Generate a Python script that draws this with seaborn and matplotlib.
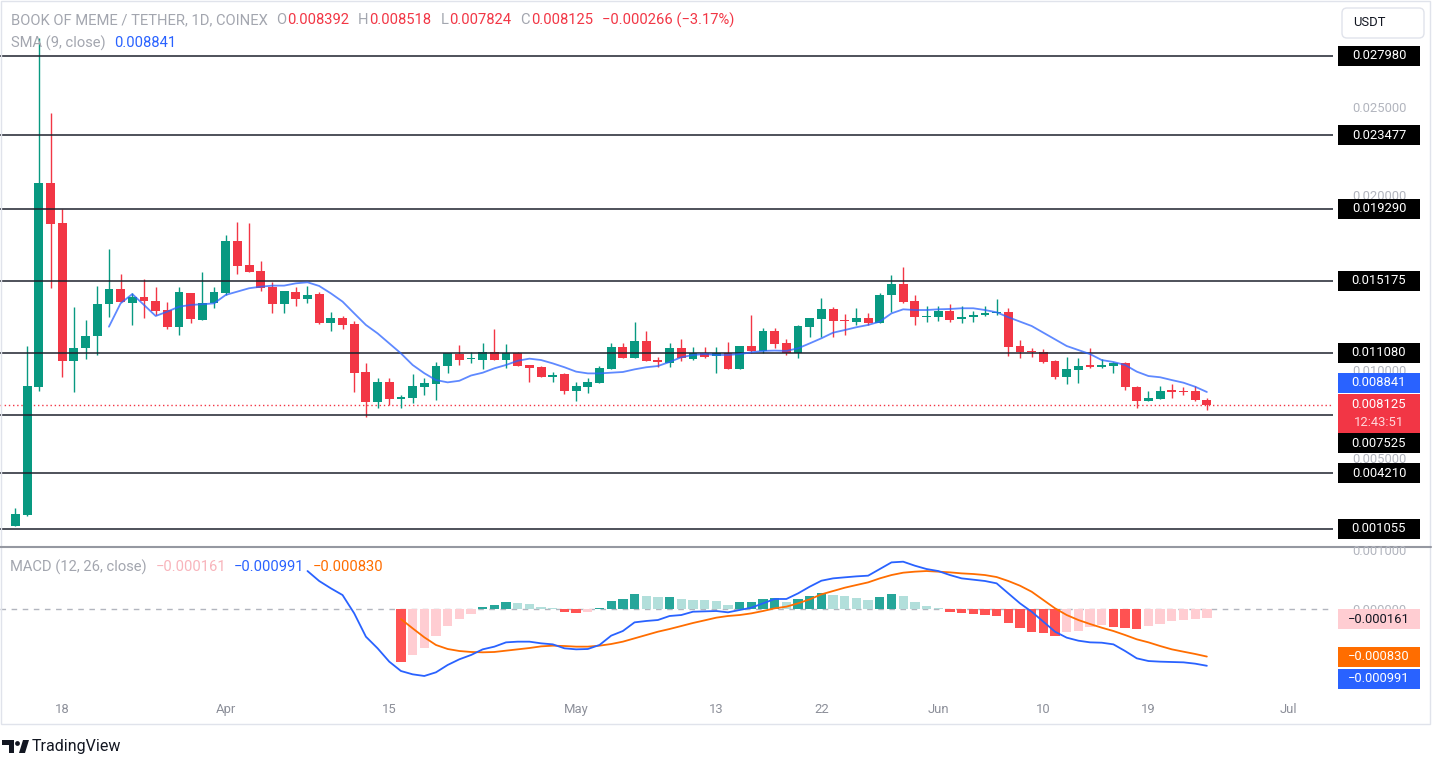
#!/usr/bin/env python3
import numpy as np
import pandas as pd
import matplotlib
matplotlib.use("Agg")
import matplotlib.pyplot as plt
import matplotlib.dates as mdates
from matplotlib.patches import Rectangle, FancyBboxPatch, Polygon, Circle
import seaborn as sns

# === data (BOME/USDT daily, Coinex) ===
dates = pd.date_range("2024-03-14", "2024-06-24", freq="D")

opens = [0.00121, 0.00183, 0.00914, 0.02076, 0.01847, 0.01061, 0.01133, 0.01203, 0.01385, 0.01469,
         0.01389, 0.01423, 0.01404, 0.01351, 0.01256, 0.01450, 0.01294, 0.01389, 0.01446, 0.01744,
         0.01606, 0.01573, 0.01480, 0.01384, 0.01455, 0.01412, 0.01442, 0.01279, 0.01307, 0.01271,
         0.00996, 0.00829, 0.00943, 0.00842, 0.00852, 0.00914, 0.00930, 0.01034, 0.01100, 0.01072,
         0.01066, 0.01114, 0.01066, 0.01108, 0.01036, 0.01025, 0.00969, 0.00985, 0.00891, 0.00914,
         0.00937, 0.01013, 0.01139, 0.01076, 0.01175, 0.01066, 0.01051, 0.01133, 0.01070, 0.01104,
         0.01089, 0.01108, 0.01013, 0.01148, 0.01119, 0.01231, 0.01161, 0.01104, 0.01256, 0.01300,
         0.01357, 0.01294, 0.01284, 0.01304, 0.01279, 0.01437, 0.01498, 0.01402, 0.01310, 0.01313,
         0.01345, 0.01298, 0.01310, 0.01321, 0.01336, 0.01341, 0.01146, 0.01118, 0.01114, 0.01061,
         0.00971, 0.01009, 0.01038, 0.01025, 0.01032, 0.01047, 0.00914, 0.00834, 0.00842, 0.00894,
         0.00891, 0.00891, 0.008392]
highs = [0.00222, 0.01146, 0.02900, 0.02471, 0.01925, 0.01370, 0.01294, 0.01489, 0.01699, 0.01554,
         0.01446, 0.01528, 0.01484, 0.01395, 0.01484, 0.01450, 0.01566, 0.01484, 0.01778, 0.01854,
         0.01848, 0.01630, 0.01509, 0.01461, 0.01484, 0.01488, 0.01452, 0.01341, 0.01319, 0.01288,
         0.01047, 0.00962, 0.00962, 0.00867, 0.00985, 0.00962, 0.01057, 0.01104, 0.01152, 0.01114,
         0.01161, 0.01243, 0.01156, 0.01114, 0.01036, 0.01034, 0.00996, 0.00994, 0.00939, 0.00962,
         0.01032, 0.01161, 0.01161, 0.01281, 0.01231, 0.01085, 0.01161, 0.01186, 0.01142, 0.01142,
         0.01142, 0.01167, 0.01148, 0.01323, 0.01247, 0.01247, 0.01186, 0.01266, 0.01304, 0.01421,
         0.01370, 0.01328, 0.01361, 0.01332, 0.01446, 0.01550, 0.01594, 0.01437, 0.01374, 0.01374,
         0.01385, 0.01374, 0.01345, 0.01374, 0.01412, 0.01361, 0.01180, 0.01136, 0.01127, 0.01066,
         0.01085, 0.01076, 0.01136, 0.01072, 0.01057, 0.01057, 0.00920, 0.00890, 0.00920, 0.00928,
         0.00914, 0.00920, 0.008518]
lows = [0.00121, 0.00180, 0.00890, 0.01475, 0.00971, 0.00882, 0.01070, 0.01095, 0.01313, 0.01397,
        0.01266, 0.01304, 0.01323, 0.01245, 0.01209, 0.01279, 0.01294, 0.01361, 0.01437, 0.01554,
        0.01566, 0.01461, 0.01332, 0.01336, 0.01376, 0.01393, 0.01271, 0.01233, 0.01245, 0.00886,
        0.00743, 0.00791, 0.00810, 0.00795, 0.00820, 0.00867, 0.00838, 0.00991, 0.01038, 0.01048,
        0.01013, 0.01066, 0.01022, 0.01032, 0.00939, 0.00968, 0.00939, 0.00871, 0.00833, 0.00880,
        0.00934, 0.01013, 0.01076, 0.01076, 0.01061, 0.01028, 0.01025, 0.01062, 0.01066, 0.01076,
        0.00991, 0.01013, 0.01013, 0.01104, 0.01104, 0.01133, 0.01095, 0.01076, 0.01196, 0.01199,
        0.01199, 0.01209, 0.01266, 0.01266, 0.01275, 0.01341, 0.01389, 0.01266, 0.01284, 0.01290,
        0.01284, 0.01275, 0.01284, 0.01317, 0.01323, 0.01089, 0.01076, 0.01082, 0.01051, 0.00956,
        0.00930, 0.00937, 0.01019, 0.01019, 0.00994, 0.00895, 0.00791, 0.00834, 0.00842, 0.00848,
        0.00867, 0.00834, 0.007824]
closes = [0.00190, 0.00918, 0.02076, 0.01839, 0.01061, 0.01133, 0.01203, 0.01385, 0.01469, 0.01395,
          0.01427, 0.01402, 0.01347, 0.01256, 0.01455, 0.01298, 0.01389, 0.01455, 0.01744, 0.01602,
          0.01566, 0.01475, 0.01384, 0.01461, 0.01412, 0.01437, 0.01279, 0.01307, 0.01266, 0.00991,
          0.00829, 0.00943, 0.00842, 0.00854, 0.00918, 0.00934, 0.01034, 0.01104, 0.01066, 0.01076,
          0.01114, 0.01066, 0.01108, 0.01032, 0.01021, 0.00968, 0.00983, 0.00891, 0.00918, 0.00943,
          0.01019, 0.01139, 0.01076, 0.01175, 0.01061, 0.01055, 0.01133, 0.01076, 0.01104, 0.01085,
          0.01104, 0.01013, 0.01148, 0.01119, 0.01231, 0.01157, 0.01104, 0.01260, 0.01304, 0.01357,
          0.01290, 0.01288, 0.01304, 0.01279, 0.01437, 0.01498, 0.01398, 0.01313, 0.01317, 0.01345,
          0.01294, 0.01313, 0.01324, 0.01336, 0.01340, 0.01142, 0.01112, 0.01110, 0.01055, 0.00971,
          0.01013, 0.01032, 0.01028, 0.01038, 0.01047, 0.00911, 0.00834, 0.00852, 0.00891, 0.00886,
          0.00884, 0.00839, 0.008125]

nan = np.nan
sma9 = [nan] * 8 + [
    0.01256, 0.01389, 0.01442, 0.01380, 0.01317, 0.01342, 0.01370, 0.01380, 0.01384, 0.01389,
    0.01437, 0.01456, 0.01475, 0.01484, 0.01490, 0.01490, 0.01503, 0.01509, 0.01488, 0.01446,
    0.01399, 0.01332, 0.01266, 0.01218, 0.01161, 0.01104, 0.01038, 0.00991, 0.00952, 0.00939,
    0.00948, 0.00978,
    0.00994, 0.01019, 0.01038, 0.01062, 0.01074, 0.01066, 0.01047, 0.01025, 0.01000, 0.00990,
    0.00990, 0.00994, 0.00998, 0.01013, 0.01025, 0.01032, 0.01055, 0.01082, 0.01095, 0.01100,
    0.01095, 0.01095, 0.01100, 0.01110, 0.01118, 0.01120, 0.01118, 0.01133, 0.01161, 0.01190,
    0.01222, 0.01237, 0.01253, 0.01266, 0.01285, 0.01332, 0.01355, 0.01351, 0.01351, 0.01355,
    0.01357,
    0.01361, 0.01361, 0.01351, 0.01338, 0.01310, 0.01285, 0.01260, 0.01222, 0.01184, 0.01146,
    0.01123, 0.01100, 0.01066, 0.01055, 0.01038, 0.01000, 0.00975, 0.00968, 0.00952, 0.00937,
    0.00914, 0.008841]

macd_line = [nan] * 25 + [
    0.000663, 0.000489, 0.000361, 0.000244, -0.000076, -0.000483, -0.000686, -0.000919,
    -0.001082, -0.001140, -0.001169, -0.001105, -0.000977, -0.000878, -0.000803, -0.000704,
    -0.000657, -0.000582, -0.000570, -0.000570, -0.000599, -0.000617, -0.000686, -0.000704,
    -0.000698, -0.000628, -0.000465, -0.000384, -0.000233, -0.000209, -0.000192, -0.000122,
    -0.000105, -0.000047,
    -0.000041, -0.000035, -0.000058, -0.000017, 0.000023, 0.000099, 0.000175, 0.000175,
    0.000273, 0.000390, 0.000494, 0.000535, 0.000553, 0.000570, 0.000582, 0.000698,
    0.000814, 0.000826, 0.000756, 0.000698, 0.000663, 0.000593, 0.000535, 0.000512,
    0.000489, 0.000448, 0.000273, 0.000099, -0.000047, -0.000221, -0.000396, -0.000500,
    -0.000553, -0.000582, -0.000588, -0.000617, -0.000733, -0.000861, -0.000908, -0.000919,
    -0.000925, -0.000931, -0.000954, -0.000991]

signal_line = [nan] * 33 + [
    -0.000175, -0.000337, -0.000494, -0.000628, -0.000698, -0.000733, -0.000750, -0.000756,
    -0.000750, -0.000727, -0.000704, -0.000681, -0.000652, -0.000640, -0.000646, -0.000657,
    -0.000657, -0.000640, -0.000611, -0.000570, -0.000512, -0.000454, -0.000396, -0.000349,
    -0.000297, -0.000244,
    -0.000198, -0.000151, -0.000122, -0.000105, -0.000076, -0.000035, 0.000012, 0.000041,
    0.000099, 0.000169, 0.000256, 0.000314, 0.000372, 0.000419, 0.000465, 0.000535,
    0.000593, 0.000634, 0.000652, 0.000663, 0.000652, 0.000640, 0.000622, 0.000611,
    0.000593, 0.000558, 0.000489, 0.000407, 0.000302, 0.000157, 0.000012, -0.000105,
    -0.000192, -0.000262, -0.000326, -0.000384, -0.000454, -0.000529, -0.000582, -0.000646,
    -0.000704, -0.000745, -0.000785, -0.000830]

hist = [nan] * 33 + [
    -0.000925, -0.000803, -0.000675, -0.000471, -0.000297, -0.000175, -0.000087, 0.000035,
    0.000070, 0.000122, 0.000105, 0.000087, 0.000041, 0.000017, -0.000047, -0.000070,
    -0.000047, 0.000023, 0.000140, 0.000175, 0.000256, 0.000227, 0.000204, 0.000210,
    0.000175, 0.000163,
    0.000157, 0.000140, 0.000070, 0.000116, 0.000122, 0.000175, 0.000186, 0.000128,
    0.000175, 0.000227, 0.000273, 0.000244, 0.000227, 0.000186, 0.000157, 0.000204,
    0.000256, 0.000227, 0.000116, 0.000052, 0.000017, -0.000047, -0.000076, -0.000093,
    -0.000110, -0.000118, -0.000250, -0.000337, -0.000407, -0.000425, -0.000471, -0.000407,
    -0.000384, -0.000308, -0.000279, -0.000310, -0.000340, -0.000350, -0.000300, -0.000262,
    -0.000210, -0.000185, -0.000170, -0.000161]

levels = [0.027980, 0.023477, 0.019290, 0.015175, 0.011080, 0.007525, 0.004210, 0.001055]
level_shift = [0, 0, 0, 0, 0, 28, 0, 0]  # label pushed down where tags collide
price_ticks = [0.025, 0.020, 0.010, 0.005]  # 0.015000 sits fully under the 0.015175 tag

tick_dates = pd.to_datetime(["2024-03-18", "2024-04-01", "2024-04-15", "2024-05-01", "2024-05-13",
                             "2024-05-22", "2024-06-01", "2024-06-10", "2024-06-19", "2024-07-01"])
tick_labels = ["18", "Apr", "15", "May", "13", "22", "Jun", "10", "19", "Jul"]

# === styling ===
sns.set_theme(style="white")
plt.rcParams["font.family"] = ["Roboto", "DejaVu Sans"]

GREEN, RED, BLUE, ORANGE = "#089981", "#f23645", "#2962ff", "#ff6d00"
GRAY = "#a3a6af"
FS = 9.4
FS_HEAD = 10.6

W, H = 1433, 758
fig = plt.figure(figsize=(W / 100, H / 100), dpi=100)
fig.patch.set_facecolor("white")
ax = fig.add_axes([0, (H - 546) / H, 1333 / W, 545 / H])
axm = fig.add_axes([0, (H - 695) / H, 1333 / W, 147 / H])

# --- candles ---
ccol = [GREEN if c >= o else RED for o, c in zip(opens, closes)]
ax.vlines(dates, lows, highs, colors=ccol, linewidth=1, zorder=2)
body_lo = np.minimum(opens, closes)
body_h = np.maximum(np.abs(np.subtract(closes, opens)), 0.00005)
ax.bar(dates, body_h, bottom=body_lo, width=0.76, color=ccol, linewidth=0, zorder=3)

for lv in levels:
    ax.axhline(lv, color="#1e222d", linewidth=1.1, zorder=4)
ax.axhline(closes[-1], color=RED, linewidth=1, linestyle=(0, (1, 2)), zorder=1)

sns.lineplot(x=dates, y=sma9, ax=ax, color=BLUE, alpha=0.75, linewidth=1.3, zorder=5)

x0 = mdates.date2num(dates[0]) - 1.327
x1 = x0 + 1333 / 11.68
ax.set_xlim(x0, x1)
ax.set_ylim(0.0000684, 0.031112)

# --- MACD pane ---
hcol = []
prev = nan
for h in hist:
    if np.isnan(h):
        hcol.append("none")
    else:
        grow = (not np.isnan(prev)) and prev < h
        if h >= 0:
            hcol.append("#26a69a" if grow else "#b2dfdb")
        else:
            hcol.append("#ffcdd2" if grow else "#ff5252")
    prev = h
axm.axhline(0, color="#b2b5be", linewidth=1, linestyle=(0, (4, 4)), zorder=1)
axm.bar(dates, np.nan_to_num(hist), width=0.8, color=hcol, linewidth=0, zorder=2)
sns.lineplot(x=dates, y=signal_line, ax=axm, color=ORANGE, linewidth=1.3, zorder=3)
sns.lineplot(x=dates, y=macd_line, ax=axm, color=BLUE, linewidth=1.3, zorder=4)
axm.set_xlim(x0, x1)
axm.set_ylim(-0.001501, 0.001065)

for a in (ax, axm):
    a.set_facecolor("white")
    for s in a.spines.values():
        s.set_visible(False)
    a.set_yticks([])
    a.set_ylabel("")
    a.set_xlabel("")
ax.set_xticks([])
axm.set_xticks(tick_dates)
axm.set_xticklabels(tick_labels)
axm.tick_params(axis="x", length=0, pad=6, labelsize=FS, labelcolor="#8c8f99")

# --- overlay in pixel coordinates for the TradingView chrome ---
ov = fig.add_axes([0, 0, 1, 1], zorder=10)
ov.set_xlim(0, W)
ov.set_ylim(H, 0)
ov.axis("off")
renderer = fig.canvas.get_renderer()


def ypix(a, v):
    return H - a.transData.transform((x0, v))[1]


def seq(x, y, parts, size=FS_HEAD):
    for s, c, gap in parts:
        t = ov.text(x, y, s, color=c, fontsize=size, ha="left", va="center")
        x += t.get_window_extent(renderer).width + gap
    return x


def tag(yc, text, fc, tc="white", h=20, x_left=1338, w=82):
    ov.add_patch(Rectangle((x_left, yc - h / 2), w, h, facecolor=fc, edgecolor="none", zorder=3))
    ov.text(x_left + w / 2, yc, text, color=tc, fontsize=FS, ha="center", va="center", zorder=4)


seq(11, 20, [("BOOK OF MEME / TETHER, 1D, COINEX", GRAY, 8), ("O", GRAY, 1), ("0.008392", RED, 9),
             ("H", GRAY, 1), ("0.008518", RED, 9), ("L", GRAY, 1), ("0.007824", RED, 9),
             ("C", GRAY, 1), ("0.008125", RED, 9), ("\u22120.000266 (\u22123.17%)", RED, 0)])
seq(11, 43, [("SMA (9, close)", GRAY, 9), ("0.008841", BLUE, 0)])
seq(10, 567, [("MACD (12, 26, close)", GRAY, 9), ("\u22120.000161", "#f8b4bb", 8),
              ("\u22120.000991", BLUE, 8), ("\u22120.000830", ORANGE, 0)])

# price scale
for v in price_ticks:
    ov.text(1379, ypix(ax, v), f"{v:.6f}", color="#b2b5be", fontsize=FS, ha="center", va="center", zorder=1)
for lv, sh in zip(levels, level_shift):
    tag(ypix(ax, lv) + sh, f"{lv:.6f}", "black")
tag(ypix(ax, sma9[-1]) - 9, f"{sma9[-1]:.6f}", BLUE)
yc = ypix(ax, closes[-1])
ov.add_patch(Rectangle((1338, yc - 10.5), 82, 39, facecolor=RED, edgecolor="none", zorder=3))
ov.text(1379, yc, f"{closes[-1]:.6f}", color="white", fontsize=FS, ha="center", va="center", zorder=4)
ov.text(1379, yc + 18, "12:43:51", color="#ffd7da", fontsize=FS, ha="center", va="center", zorder=4)

ov.text(1379, ypix(axm, 0.001), "0.001000", color="#b2b5be", fontsize=FS, ha="center", va="center")
ov.text(1379, ypix(axm, 0.0) + 1, "0.000000", color="#b2b5be", fontsize=FS, ha="center", va="center", zorder=1)
tag(ypix(axm, hist[-1]) + 1, "\u22120.000161", "#ffcdd2", tc="#131722")
tag(ypix(axm, signal_line[-1]), "\u22120.000830", ORANGE)
tag(ypix(axm, macd_line[-1]) + 13, "\u22120.000991", BLUE)

# USDT button
ov.add_patch(FancyBboxPatch((1342, 8), 82, 30, boxstyle="round,pad=0,rounding_size=5",
                            facecolor="white", edgecolor="#e0e3eb", linewidth=1))
ov.text(1353, 23, "USDT", color="#131722", fontsize=FS, ha="left", va="center")

# frame and pane separator
ov.add_patch(Rectangle((0.5, 1), 1430, 723, fill=False, edgecolor="#e0e3eb", linewidth=1))
ov.plot([0, 1431], [546.5, 546.5], color="#9598a1", linewidth=1.5)

# TradingView logo
ov.add_patch(Polygon([(2, 740), (14, 740), (14, 753), (9, 753), (9, 745), (2, 745)], closed=True,
                     facecolor="#131722", edgecolor="none"))
ov.add_patch(Circle((17.5, 743.5), 2.4, facecolor="#131722", edgecolor="none"))
ov.add_patch(Polygon([(19, 753), (23, 740), (29, 740), (25, 753)], closed=True,
                     facecolor="#131722", edgecolor="none"))
ov.text(32, 747, "TradingView", color="#131722", fontsize=11.5, ha="left", va="center")

fig.savefig("out.png", dpi=100)
